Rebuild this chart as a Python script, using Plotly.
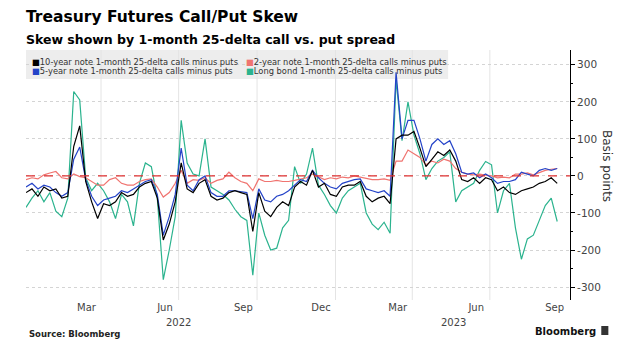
import plotly.graph_objects as go
import pandas as pd

dates = pd.date_range("2022-01-03", periods=90, freq="7D")

ten_year = [-45, -35, -55, -30, -40, -35, -60, -55, 80, 135,
            -15, -70, -115, -75, -80, -70, -45, -55, -50, -30,
            -20, -15, -60, -173, -130, -70, 35, -35, -45, -20,
            -10, -55, -65, -60, -45, -40, -45, -50, -150, -45,
            -95, -110, -85, -70, -80, -30, -15, -25, 15, -30,
            -20, -50, -55, -30, -25, -25, -15, -55, -70, -60,
            -55, -75, 100, 110, 110, 120, 75, 25, 45, 65,
            55, 70, 40, -10, -15, -5, -20, -5, -10, -40,
            -30, -45, -50, -40, -35, -30, -20, -15, -5, -20]

two_year = [-10, -5, -8, 3, 8, 12, -5, -8, 5, -2,
            -5, -15, -25, -25, -10, -5, -20, -25, -25, -15,
            -10, -8, -30, -57, -45, -20, 15, -20, -10, -12,
            -5, -20, -12, -8, 10, -5, -15, -20, -40, -8,
            -15, -15, -12, -15, -15, -12, -8, -5, 5, -2,
            -10, -5, -8, -3, -5, 0, -3, -8, -10, -10,
            -8, -12, 40, 40, 70, 60, 50, 30, 40, 35,
            45, 40, 20, 10, 5, 3, 5, 2, 0, -5,
            -3, -5, 5, 5, 8, 3, 10, 15, 18, 20]

five_year = [-30, -20, -35, -25, -30, -45, -55, -45, 45, 78,
             -10, -55, -80, -65, -60, -55, -40, -45, -35, -25,
             -15, -10, -50, -160, -110, -50, 75, -25, -40, -10,
             0, -45, -55, -55, -40, -40, -42, -45, -115, -35,
             -65, -70, -55, -50, -40, -25, -10, -15, 15, -5,
             -20, -30, -35, -20, -15, -10, -8, -35, -40, -45,
             -40, -55, 280, 100, 150, 150, 100, 40, 85, 100,
             85, 95, 60, 10, 5, 8, -5, 5, -5, -20,
             -15, -15, -10, 10, 5, 0, 15, 20, 15, 20]

long_bond = [-85, -60, -40, -70, -45, -95, -110, -60, 228, 205,
             -5, -40, -20, -40, -70, -115, -50, -70, -135, -20,
             35, 25, -60, -280, -200, -110, 150, 35, 5, 0,
             100, -30, -40, -50, -65, -90, -110, -120, -268, -100,
             -160, -200, -195, -140, -120, 25, -20, 5, 75, -25,
             -50, -80, -100, -60, -40, -30, -20, -100, -130, -145,
             -125, -155, 260, 95, 200, 110, 60, -10, 20, 40,
             50, 65, -70, -40, -30, -20, 15, 39, 30, -100,
             -40, -20, -140, -225, -170, -160, -120, -80, -60, -123]

series_names = ["10-year note 1-month 25-delta calls minus puts",
                "2-year note 1-month 25-delta calls minus puts",
                "5-year note 1-month 25-delta calls minus puts",
                "Long bond 1-month 25-delta calls minus puts"]
series_values = [ten_year, two_year, five_year, long_bond]
colors = ["#000000", "#f07470", "#2443c8", "#2bb38e"]

x_tick_vals = ["2022-03-15", "2022-06-15", "2022-09-15", "2022-12-15",
               "2023-03-15", "2023-06-15", "2023-09-15"]
x_tick_text = ["Mar", "Jun", "Sep", "Dec", "Mar", "Jun", "Sep"]
grid_dates = ["2022-04-01", "2022-07-01", "2022-10-01", "2023-01-01",
              "2023-04-01", "2023-07-01"]
year_labels = ["2022", "2023"]
year_pos = ["2022-07-01", "2023-05-19"]
y_ticks = [-300, -200, -100, 0, 100, 200, 300]

fig = go.Figure()
draw_order = [3, 1, 2, 0]
for k in draw_order:
    fig.add_trace(go.Scatter(x=dates, y=series_values[k], mode="lines",
                             name=series_names[k],
                             line=dict(color=colors[k], width=1.2),
                             showlegend=False))

shapes = []
shapes.append(dict(type="rect", xref="paper", yref="paper", x0=0, x1=0.776,
                   y0=0.884, y1=1.0, fillcolor="#ededed", line=dict(width=0),
                   layer="below"))
for g in grid_dates:
    shapes.append(dict(type="line", xref="x", yref="paper", x0=g, x1=g,
                       y0=0, y1=1, line=dict(color="#e4e4e4", width=1),
                       layer="below"))
shapes.append(dict(type="line", xref="paper", yref="y", x0=0, x1=1, y0=0, y1=0,
                   line=dict(color="#e03030", width=1.3, dash="dash")))

annotations = []
FONT = "DejaVu Sans"
annotations.append(dict(text="<b>Treasury Futures Call/Put Skew</b>", xref="paper", yref="paper",
                        x=-0.004, y=1.132, xanchor="left", yanchor="middle", showarrow=False,
                        font=dict(family=FONT, size=15.5, color="#000")))
annotations.append(dict(text="<b>Skew shown by 1-month 25-delta call vs. put spread</b>",
                        xref="paper", yref="paper", x=-0.004, y=1.04, xanchor="left",
                        yanchor="middle", showarrow=False,
                        font=dict(family=FONT, size=12.5, color="#000")))
leg_pos = [(0.0074, 0.952), (0.4007, 0.952), (0.0074, 0.916), (0.4007, 0.916)]
for k in range(4):
    annotations.append(dict(
        text=f"<span style='color:{colors[k]}'>■</span>{series_names[k]}",
        xref="paper", yref="paper", x=leg_pos[k][0], y=leg_pos[k][1],
        xanchor="left", yanchor="middle", showarrow=False,
        font=dict(family=FONT, size=8.3, color="#333")))
for t, p in zip(year_labels, year_pos):
    annotations.append(dict(text=t, xref="x", yref="paper", x=p, y=-0.088,
                            xanchor="center", yanchor="middle", showarrow=False,
                            font=dict(family=FONT, size=10, color="#444")))
annotations.append(dict(text="Basis points", xref="paper", yref="paper", x=1.068, y=0.536,
                        textangle=90, xanchor="center", yanchor="middle", showarrow=False,
                        font=dict(family=FONT, size=12, color="#333")))
annotations.append(dict(text="<b>Source: Bloomberg</b>", xref="paper", yref="paper",
                        x=0.002, y=-0.136, xanchor="left", yanchor="middle", showarrow=False,
                        font=dict(family=FONT, size=8.5, color="#222")))
annotations.append(dict(text="<b>Bloomberg</b>", xref="paper", yref="paper",
                        x=1.052, y=-0.124, xanchor="right", yanchor="middle", showarrow=False,
                        font=dict(family=FONT, size=10, color="#111")))
shapes.append(dict(type="rect", xref="paper", yref="paper", x0=1.0575, x1=1.0705,
                   y0=-0.14, y1=-0.104, fillcolor="#333", line=dict(width=0)))

fig.update_layout(
    width=639, height=351,
    margin=dict(l=26, r=69, t=50, b=51),
    paper_bgcolor="white", plot_bgcolor="white",
    shapes=shapes, annotations=annotations,
    showlegend=False,
    xaxis=dict(type="date", range=["2022-01-03", "2023-10-03"],
               tickvals=x_tick_vals, ticktext=x_tick_text,
               showgrid=False, zeroline=False, showline=False, ticks="",
               tickfont=dict(family=FONT, size=10, color="#444")),
    yaxis=dict(side="right", range=[-335, 340], tickvals=y_ticks,
               ticktext=[str(v) for v in y_ticks],
               showgrid=True, gridcolor="#d4d4d4", griddash="dot", gridwidth=1,
               zeroline=False, showline=True, linecolor="#000", linewidth=1,
               ticks="outside", ticklen=4, tickcolor="#000",
               minor=dict(dtick=50, ticks="outside", ticklen=2, tickcolor="#000", showgrid=False),
               tickfont=dict(family=FONT, size=10.5, color="#444")),
)

fig.write_html("out.html")
